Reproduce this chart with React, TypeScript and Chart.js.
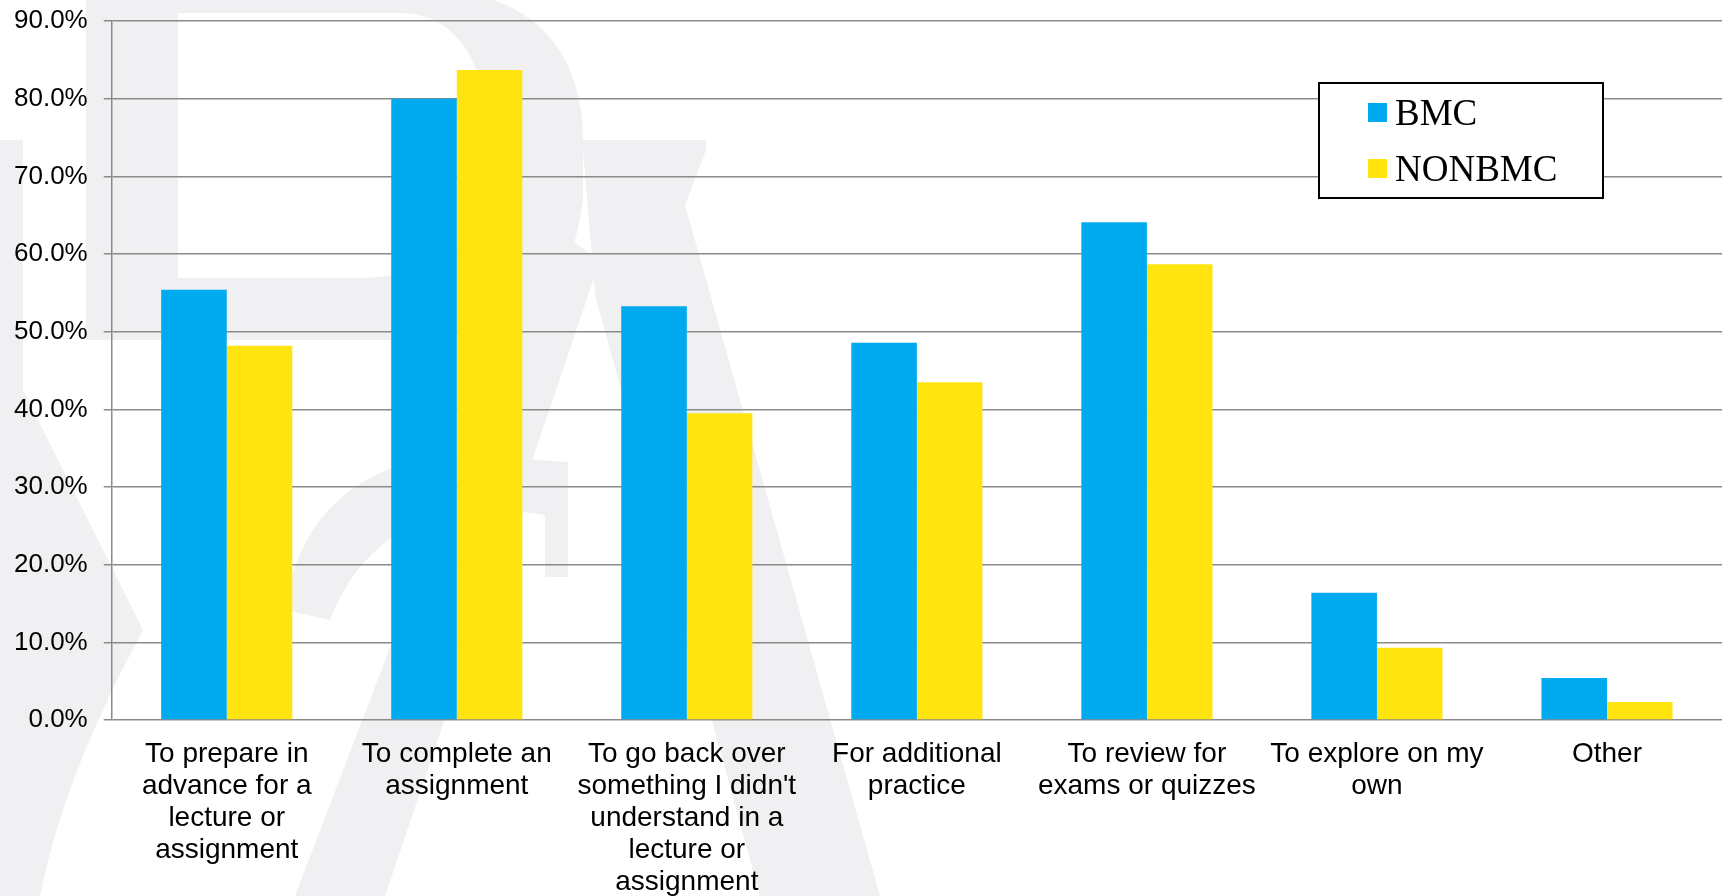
import React, { useEffect, useRef } from "react";
import { Chart, registerables } from "chart.js";

Chart.register(...registerables);

const categories: string[][] = [
  ["To prepare in", "advance for a", "lecture or", "assignment"],
  ["To complete an", "assignment"],
  ["To go back over", "something I didn't", "understand in a", "lecture or", "assignment"],
  ["For additional", "practice"],
  ["To review for", "exams or quizzes"],
  ["To explore on my", "own"],
  ["Other"],
];
const seriesNames = ["BMC", "NONBMC"];
const bmcValues = [55.4, 80.0, 53.3, 48.6, 64.1, 16.4, 5.4];
const nonbmcValues = [48.2, 83.7, 39.5, 43.5, 58.7, 9.3, 2.3];
const seriesColors = ["#00AAEE", "#FFE40F"];
const yMin = 0;
const yMax = 90;
const yStep = 10;

const watermarkPlugin = {
  id: "watermark",
  beforeDraw(chart: any) {
    const ctx = chart.ctx as CanvasRenderingContext2D;
    ctx.save();
    ctx.fillStyle = "#ffffff";
    ctx.fillRect(0, 0, chart.width, chart.height);
    ctx.fillStyle = "#f0f0f2";
    // R bowl + stem
    ctx.beginPath();
    ctx.moveTo(86, -10);
    ctx.lineTo(430, -10);
    ctx.bezierCurveTo(520, -10, 583, 40, 583, 140);
    ctx.lineTo(583, 200);
    ctx.bezierCurveTo(570, 300, 520, 340, 450, 340);
    ctx.lineTo(86, 340);
    ctx.closePath();
    ctx.moveTo(178, 13);
    ctx.lineTo(400, 13);
    ctx.bezierCurveTo(460, 13, 490, 70, 490, 150);
    ctx.bezierCurveTo(490, 230, 440, 278, 360, 278);
    ctx.lineTo(178, 278);
    ctx.closePath();
    ctx.fill("evenodd");
    // top serif of the cross stroke
    ctx.fillRect(583, 140, 123, 10);
    // down-right stroke
    ctx.beginPath();
    ctx.moveTo(583, 150);
    ctx.lineTo(706, 150);
    ctx.lineTo(685, 205);
    ctx.lineTo(880, 896);
    ctx.lineTo(760, 896);
    ctx.lineTo(595, 295);
    ctx.closePath();
    ctx.fill();
    // down-left stroke
    ctx.beginPath();
    ctx.moveTo(551, 227);
    ctx.lineTo(600, 260);
    ctx.lineTo(385, 896);
    ctx.lineTo(295, 896);
    ctx.closePath();
    ctx.fill();
    // lower arc
    ctx.beginPath();
    ctx.moveTo(285, 610);
    ctx.bezierCurveTo(300, 500, 380, 455, 470, 455);
    ctx.lineTo(568, 462);
    ctx.lineTo(568, 577);
    ctx.lineTo(545, 577);
    ctx.lineTo(545, 515);
    ctx.bezierCurveTo(450, 500, 370, 520, 330, 620);
    ctx.closePath();
    ctx.fill();
    // left strip and lower-left curve
    ctx.fillRect(0, 140, 23, 756);
    ctx.beginPath();
    ctx.moveTo(0, 344);
    ctx.lineTo(143, 630);
    ctx.bezierCurveTo(95, 720, 60, 800, 40, 896);
    ctx.lineTo(0, 896);
    ctx.closePath();
    ctx.fill();
    ctx.restore();
  },
};

const legendBoxPlugin = {
  id: "legendBox",
  afterDraw(chart: any) {
    const ctx = chart.ctx as CanvasRenderingContext2D;
    ctx.save();
    ctx.fillStyle = "#ffffff";
    ctx.fillRect(1319, 83, 284, 115);
    ctx.strokeStyle = "#000000";
    ctx.lineWidth = 2;
    ctx.strokeRect(1319, 83, 284, 115);
    ctx.font = "37px 'Liberation Serif', 'Times New Roman', serif";
    ctx.textBaseline = "alphabetic";
    ctx.textAlign = "left";
    const rows = [
      { sy: 103, ty: 125 },
      { sy: 159, ty: 181 },
    ];
    chart.data.datasets.forEach((ds: any, i: number) => {
      const r = rows[i];
      ctx.fillStyle = ds.backgroundColor;
      ctx.fillRect(1368, r.sy, 19, 19);
      ctx.fillStyle = "#000000";
      ctx.fillText(ds.label, 1395, r.ty);
    });
    ctx.restore();
  },
};

export default function App() {
  const canvasRef = useRef<HTMLCanvasElement | null>(null);

  useEffect(() => {
    const canvas = canvasRef.current;
    if (!canvas) return;
    const chart = new Chart(canvas, {
      type: "bar",
      data: {
        labels: categories,
        datasets: [
          {
            label: seriesNames[0],
            data: bmcValues,
            backgroundColor: seriesColors[0],
            borderWidth: 0,
            barPercentage: 1,
            categoryPercentage: 0.57,
          },
          {
            label: seriesNames[1],
            data: nonbmcValues,
            backgroundColor: seriesColors[1],
            borderWidth: 0,
            barPercentage: 1,
            categoryPercentage: 0.57,
          },
        ],
      },
      options: {
        responsive: false,
        animation: false,
        layout: { padding: { left: -2, right: 7, top: 0, bottom: -20 } },
        plugins: {
          legend: { display: false },
          tooltip: { enabled: false },
        },
        scales: {
          x: {
            grid: { display: false, drawTicks: false, tickLength: 0 },
            border: { display: false },
            ticks: {
              color: "#000000",
              font: { family: "'Liberation Sans', Arial, sans-serif", size: 28, lineHeight: 1.143 },
              padding: 18,
              maxRotation: 0,
              minRotation: 0,
              autoSkip: false,
            },
          },
          y: {
            min: yMin,
            max: yMax,
            grid: { color: "#8a8a8a", lineWidth: 1.5, tickLength: 8 },
            border: { color: "#8a8a8a", width: 1.5 },
            ticks: {
              stepSize: yStep,
              color: "#000000",
              padding: 16,
              font: { family: "'Liberation Sans', Arial, sans-serif", size: 26, lineHeight: 0.4 },
              callback: (v: any) => Number(v).toFixed(1) + "%",
            },
          },
        },
      },
      plugins: [watermarkPlugin, legendBoxPlugin],
    });
    return () => chart.destroy();
  }, []);

  return (
    <div style={{ position: "fixed", left: 0, top: 0, width: 1729, height: 896, background: "#fff" }}>
      <canvas ref={canvasRef} width={1729} height={896} style={{ display: "block" }} />
    </div>
  );
}
